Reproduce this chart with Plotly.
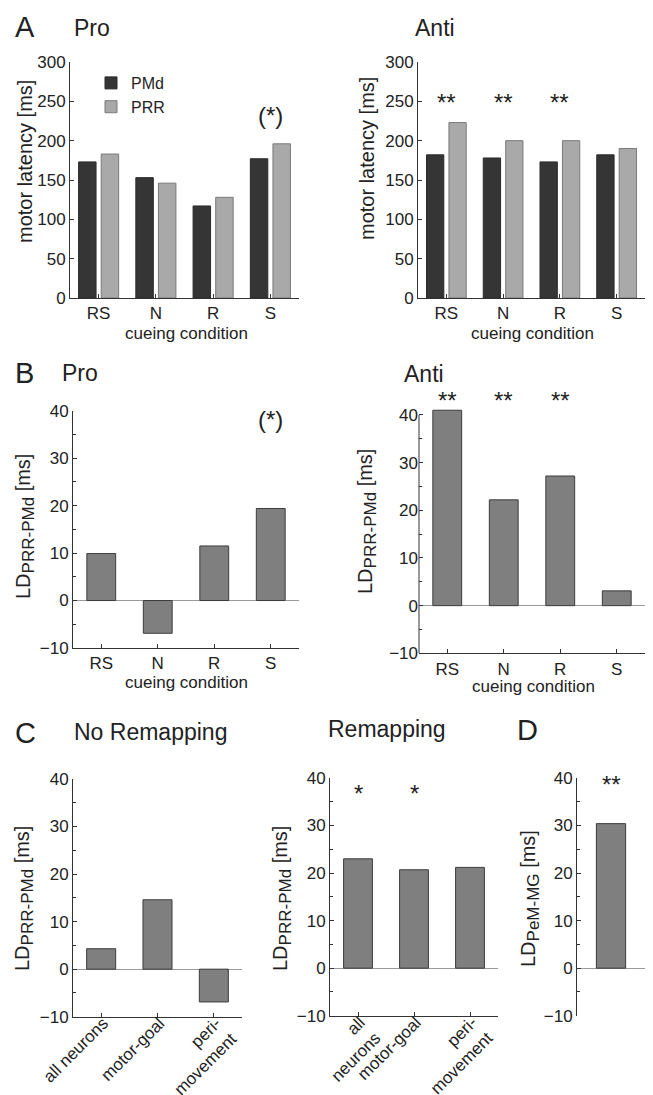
import plotly.graph_objects as go

# page body adds an 8 px margin: build the figure 8 px smaller and shift all
# reference pixel positions by that amount
OFF = 8
W, H = 653 - OFF, 1095 - OFF

# ---------------- data ----------------
conditions = ["RS", "N", "R", "S"]
pro_pmd = [173, 153, 117, 177]
pro_prr = [183, 146, 128, 196]
anti_pmd = [182, 178, 173, 182]
anti_prr = [223, 200, 200, 190]
ld_pro = [9.9, -6.9, 11.5, 19.4]
ld_anti = [41.0, 22.2, 27.2, 3.1]
groups_noremap = ["all neurons", "motor-goal", "peri-<br>movement"]
groups_remap = ["all<br>neurons", "motor-goal", "peri-<br>movement"]
ld_noremap = [4.3, 14.6, -6.9]
ld_remap = [23.0, 20.7, 21.2]
group_d = ["PeM-MG"]
ld_pem_mg = [30.4]

# significance markers: (category index, y value, text)
sig_pro_a = [(3, 232, "(*)")]
sig_anti_a = [(0, 248, "**"), (1, 248, "**"), (2, 248, "**")]
sig_pro_b = [(3, 38.2, "(*)")]
sig_anti_b = [(0, 43.0, "**"), (1, 43.0, "**"), (2, 43.0, "**")]
sig_remap = [(0, 36.8, "*"), (1, 36.8, "*")]
sig_d = [(0, 38.6, "**")]

# ---------------- styles ----------------
FONT = "Liberation Sans, Arial, sans-serif"
TXT = "#222222"
AX = "#333333"
DARK = "#353535"
LIGHT = "#a9a9a9"
MID = "#7f7f7f"


def fx(p):
    return (p - OFF) / W


def fy(p):
    return 1 - (p - OFF) / H


fig = go.Figure()

# Panel A Pro
fig.add_trace(go.Bar(x=conditions, y=pro_pmd, name="PMd", marker=dict(color=DARK, line=dict(color="#2a2a2a", width=1)),
                     width=0.305, offset=-0.35, xaxis="x", yaxis="y"))
fig.add_trace(go.Bar(x=conditions, y=pro_prr, name="PRR", marker=dict(color=LIGHT, line=dict(color="#7a7a7a", width=1)),
                     width=0.305, offset=0.045, xaxis="x", yaxis="y"))
# Panel A Anti
fig.add_trace(go.Bar(x=conditions, y=anti_pmd, name="PMd", showlegend=False,
                     marker=dict(color=DARK, line=dict(color="#2a2a2a", width=1)),
                     width=0.305, offset=-0.35, xaxis="x2", yaxis="y2"))
fig.add_trace(go.Bar(x=conditions, y=anti_prr, name="PRR", showlegend=False,
                     marker=dict(color=LIGHT, line=dict(color="#7a7a7a", width=1)),
                     width=0.305, offset=0.045, xaxis="x2", yaxis="y2"))
# Panel B
mid_marker = dict(color=MID, line=dict(color="#3c3c3c", width=1))
fig.add_trace(go.Bar(x=conditions, y=ld_pro, showlegend=False, marker=mid_marker,
                     width=0.51, offset=-0.255, xaxis="x3", yaxis="y3"))
fig.add_trace(go.Bar(x=conditions, y=ld_anti, showlegend=False, marker=mid_marker,
                     width=0.51, offset=-0.255, xaxis="x4", yaxis="y4"))
# Panel C
fig.add_trace(go.Bar(x=groups_noremap, y=ld_noremap, showlegend=False, marker=mid_marker,
                     width=0.515, offset=-0.2575, xaxis="x5", yaxis="y5"))
fig.add_trace(go.Bar(x=groups_remap, y=ld_remap, showlegend=False, marker=mid_marker,
                     width=0.515, offset=-0.2575, xaxis="x6", yaxis="y6"))
# Panel D
fig.add_trace(go.Bar(x=group_d, y=ld_pem_mg, showlegend=False, marker=mid_marker,
                     width=0.43, offset=-0.215, xaxis="x7", yaxis="y7"))

# y-range top for panel B Anti extended so the 41 ms bar is not clipped
B_ANTI_TOP = 41.4
domains = {
    1: ((70, 299), (62, 298)),
    2: ((418, 645), (62, 298)),
    3: ((73, 299), (410.7, 648)),
    4: ((419, 645), (415 - (B_ANTI_TOP - 40) * 4.766, 653.3)),
    5: ((73, 242), (779, 1016.7)),
    6: ((330, 498), (778, 1015.7)),
    7: ((577, 645), (778, 1015.7)),
}
ncats = {1: 4, 2: 4, 3: 4, 4: 4, 5: 3, 6: 3, 7: 1}

tickfont = dict(family=FONT, size=17, color=TXT)
layout = dict(
    width=W, height=H, autosize=False,
    margin=dict(l=0, r=0, t=0, b=0, pad=0),
    paper_bgcolor="white", plot_bgcolor="white",
    font=dict(family=FONT, color=TXT),
    barmode="overlay",
    showlegend=True,
    legend=dict(x=fx(91), y=fy(66), xanchor="left", yanchor="top",
                bgcolor="rgba(0,0,0,0)", font=dict(family=FONT, size=16, color=TXT),
                tracegroupgap=0, itemwidth=30),
)

for i in range(1, 8):
    (x0, x1), (y0, y1) = domains[i]
    xk = "xaxis" if i == 1 else f"xaxis{i}"
    yk = "yaxis" if i == 1 else f"yaxis{i}"
    ya = "y" if i == 1 else f"y{i}"
    xa = "x" if i == 1 else f"x{i}"
    xd = dict(domain=[fx(x0), fx(x1)], anchor=ya, range=[-0.5, ncats[i] - 0.5],
              showline=True, linecolor=AX, linewidth=1, ticks="inside", ticklen=4,
              tickcolor=AX, tickfont=tickfont, showgrid=False, zeroline=False,
              fixedrange=True, automargin=False)
    if i in (5, 6):
        xd["tickangle"] = -45
        xd["tickfont"] = dict(family=FONT, size=17, color=TXT)
        xd["ticklabelstandoff"] = -11
        xd["ticklabelshift"] = 2
    if i == 7:
        xd.update(showline=False, ticks="", showticklabels=False)
    if i in (1, 2):
        yd = dict(range=[0, 300], dtick=50, tick0=0, zeroline=False)
    else:
        yd = dict(range=[-10, B_ANTI_TOP if i == 4 else 40], dtick=10, tick0=0,
                  zeroline=True, zerolinecolor="#9a9a9a", zerolinewidth=1,
                  minor=dict(ticks="inside", dtick=5, tick0=0, ticklen=2.5, tickcolor=AX))
    yd.update(domain=[fy(y1), fy(y0)], anchor=xa, showline=(i != 4), linecolor=AX, linewidth=1,
              ticks="inside", ticklen=4, tickcolor=AX, tickfont=tickfont, showgrid=False,
              fixedrange=True, automargin=False)
    layout[xk] = xd
    layout[yk] = yd

fig.update_layout(**layout)

# y-axis line of panel B Anti drawn only from -10 to 40
fig.add_shape(type="line", xref="x4 domain", yref="y4", x0=0, x1=0, y0=-10, y1=40,
              line=dict(color=AX, width=1))

ann = []


def text(x, y, s, size, xanchor="left", yanchor="middle", angle=0):
    ann.append(dict(x=fx(x), y=fy(y), xref="paper", yref="paper", text=s, showarrow=False,
                    xanchor=xanchor, yanchor=yanchor, textangle=angle,
                    font=dict(family=FONT, size=size, color=TXT)))


# panel letters and titles
text(13, 27, "A", 29)
text(72, 28, "Pro", 23)
text(413, 28, "Anti", 23)
text(13, 373, "B", 29)
text(60, 373, "Pro", 23)
text(402, 374, "Anti", 23)
text(13, 733, "C", 29)
text(72, 732, "No Remapping", 23)
text(326, 729, "Remapping", 23)
text(515, 730, "D", 29)

SUB = "<sub><span style='font-size:17px'>%s</span></sub>"
# axis titles
text(25, 162, "motor latency [ms]", 20, "center", "middle", -90)
text(367, 159, "motor latency [ms]", 20, "center", "middle", -90)
text(186, 333, "cueing condition", 17, "center", "middle")
text(532, 333, "cueing condition", 17, "center", "middle")
text(25, 527, "LD" + SUB % "PRR-PMd" + " [ms]", 20, "center", "middle", -90)
text(367, 522, "LD" + SUB % "PRR-PMd" + " [ms]", 20, "center", "middle", -90)
text(186, 683, "cueing condition", 17, "center", "middle")
text(533, 686, "cueing condition", 17, "center", "middle")
text(24, 899, "LD" + SUB % "PRR-PMd" + " [ms]", 20, "center", "middle", -90)
text(282, 899, "LD" + SUB % "PRR-PMd" + " [ms]", 20, "center", "middle", -90)
text(530, 899, "LD" + SUB % "PeM-MG" + " [ms]", 20, "center", "middle", -90)


# significance markers
def sig(items, axis, cats):
    xa = "x" if axis == 1 else f"x{axis}"
    ya = "y" if axis == 1 else f"y{axis}"
    for idx, val, s in items:
        ann.append(dict(x=cats[idx], y=val, xref=xa, yref=ya, text=s, showarrow=False,
                        xanchor="center", yanchor="middle",
                        font=dict(family=FONT, size=24, color=TXT)))


sig(sig_pro_a, 1, conditions)
sig(sig_anti_a, 2, conditions)
sig(sig_pro_b, 3, conditions)
sig(sig_remap, 6, groups_remap)
sig(sig_d, 7, group_d)
# panel B Anti markers sit above the axis range: place them relative to the axis domain
y4_span = B_ANTI_TOP + 10
for idx, val, s in sig_anti_b:
    ann.append(dict(x=conditions[idx], y=(val + 10) / y4_span, xref="x4", yref="y4 domain", text=s,
                    showarrow=False, xanchor="center", yanchor="middle",
                    font=dict(family=FONT, size=24, color=TXT)))

fig.update_layout(annotations=ann)
fig.write_html("out.html")
